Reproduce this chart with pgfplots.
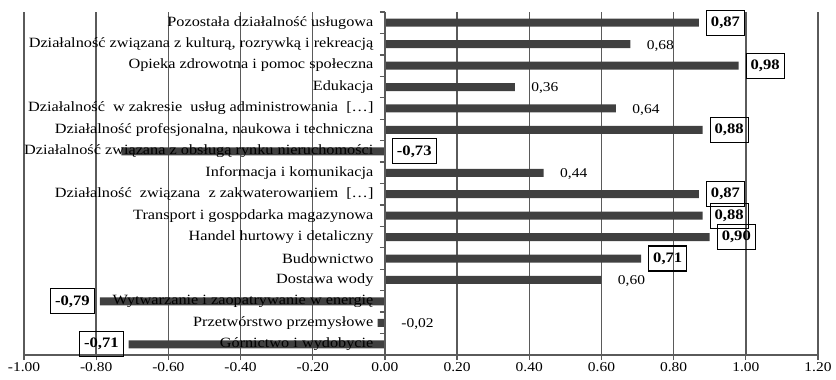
\documentclass[border=0pt]{standalone}
\usepackage{fontspec}
\setmainfont{Liberation Serif}[FakeStretch=1.15]
\usepackage{pgfplots}
\pgfplotsset{compat=1.18}
\usepackage{pgfplotstable}
\definecolor{barc}{HTML}{404040}
\definecolor{gridc}{HTML}{5A5A5A}

\pgfplotstableread{
x y
-0.71 0
-0.02 1
-0.79 2
0.60 3
0.71 4
0.90 5
0.88 6
0.87 7
0.44 8
-0.73 9
0.88 10
0.64 11
0.36 12
0.98 13
0.68 14
0.87 15
}\bars

\pgfplotstableread{
x y lab
0.60 3 0,60
0.44 8 0,44
0.64 11 0,64
0.36 12 0,36
0.68 14 0,68
0 1 -0,02
}\plainlab

\pgfplotstableread{
x y lab
0.71 4 0,71
0.90 5 0,90
0.88 6 0,88
0.87 7 0,87
0.88 10 0,88
0.98 13 0,98
0.87 15 0,87
0 9 -0,73
}\boldR

\pgfplotstableread{
x y lab
-0.71 0 -0,71
-0.79 2 -0,79
}\boldL

\begin{document}
\begin{tikzpicture}
\path[use as bounding box] (-24bp,-25bp) rectangle (812bp,355bp);
\begin{axis}[
  axis on top,
  at={(0,0)}, anchor=south west,
  scale only axis,
  width=794bp, height=343bp,
  xmin=-1, xmax=1.2, ymin=-0.5, ymax=15.5,
  axis x line=bottom,
  axis y line=middle,
  axis line style={-, draw=gridc, line width=1.3bp},
  xtick={-1,-0.8,-0.6,-0.4,-0.2,0,0.2,0.4,0.6,0.8,1,1.2},
  xticklabels={-1.00,-0.80,-0.60,-0.40,-0.20,0.00,0.20,0.40,0.60,0.80,1.00,1.20},
  tick align=outside,
  major tick length=5bp,
  tick style={draw=gridc, line width=1.3bp},
  xticklabel style={font=\fontsize{13.5}{14}\selectfont, inner sep=2bp},
  ytick={-0.5,0.5,...,15.6},
  yticklabels={},
  extra y ticks={0,1,...,15},
  extra y tick labels={Górnictwo i wydobycie, Przetwórstwo przemysłowe, Wytwarzanie i zaopatrywanie w energię, Dostawa wody, Budownictwo, {Handel hurtowy i detaliczny\ }, Transport i gospodarka magazynowa, {Działalność\ \ związana\ \ z zakwaterowaniem\ \ […]}, Informacja i komunikacja, Działalność związana z obsługą rynku nieruchomości, {Działalność profesjonalna, naukowa i techniczna}, {Działalność\ \ w zakresie\ \ usług administrowania\ \ […]}, Edukacja, {Opieka zdrowotna i pomoc społeczna}, {Działalność związana z kulturą, rozrywką i rekreacją}, Pozostała działalność usługowa},
  extra y tick style={major tick length=0pt, yticklabel style={font=\fontsize{14.2}{15}\selectfont, anchor=east, xshift=-8bp}},
  clip=false,
]
% vertical grid lines
\addplot[draw=gridc, line width=1.4bp, forget plot, unbounded coords=jump] coordinates {
  (-1,-0.5) (-1,15.5) (nan,nan)
  (-0.8,-0.5) (-0.8,15.5) (nan,nan)
  (-0.6,-0.5) (-0.6,15.5) (nan,nan)
  (-0.4,-0.5) (-0.4,15.5) (nan,nan)
  (-0.2,-0.5) (-0.2,15.5) (nan,nan)
  (0.2,-0.5) (0.2,15.5) (nan,nan)
  (0.4,-0.5) (0.4,15.5) (nan,nan)
  (0.6,-0.5) (0.6,15.5) (nan,nan)
  (0.8,-0.5) (0.8,15.5) (nan,nan)
  (1,-0.5) (1,15.5) (nan,nan)
  (1.2,-0.5) (1.2,15.5)
};
\addplot[xbar, bar width=8bp, bar shift=0pt, fill=barc, draw=none] table[x=x, y=y] {\bars};
\addplot[draw=none, nodes near coords, point meta=explicit symbolic,
  nodes near coords style={anchor=west, xshift=13bp, yshift=-1.5bp, font=\fontsize{13.5}{14}\selectfont, text=black}]
  table[x=x, y=y, meta=lab] {\plainlab};
\addplot[draw=none, nodes near coords, point meta=explicit symbolic,
  nodes near coords style={anchor=west, xshift=7bp, font=\bfseries\fontsize{14.5}{15}\selectfont, text=black, draw=black, line width=1.1bp, inner xsep=4.5bp, minimum height=25bp}]
  table[x=x, y=y, meta=lab] {\boldR};
\addplot[draw=none, nodes near coords, point meta=explicit symbolic,
  nodes near coords style={anchor=east, xshift=-5bp, font=\bfseries\fontsize{14.5}{15}\selectfont, text=black, draw=black, line width=1.1bp, inner xsep=4.5bp, minimum height=25bp}]
  table[x=x, y=y, meta=lab] {\boldL};
\end{axis}
\end{tikzpicture}
\end{document}
